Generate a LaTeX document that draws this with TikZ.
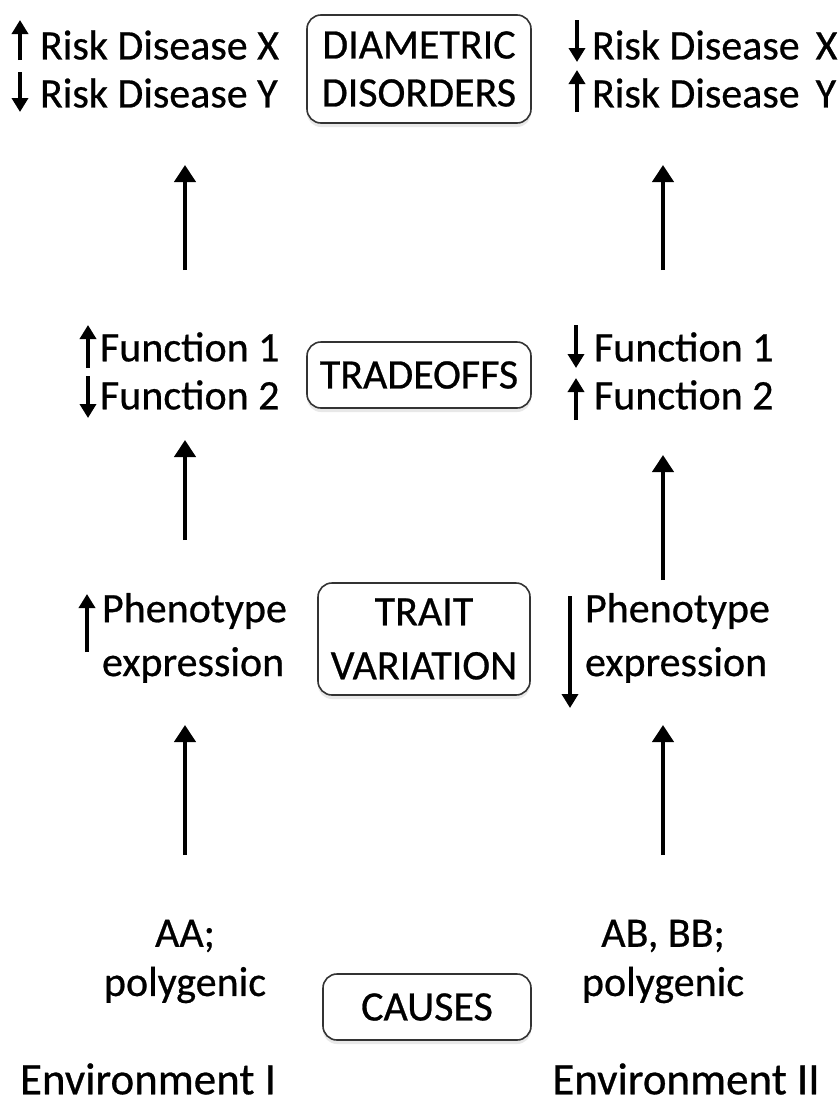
\documentclass[tikz,border=0pt]{standalone}
\usepackage{fontspec}
\setmainfont{Carlito}[FakeBold=0.6]
\usetikzlibrary{arrows.meta,shadows}
\begin{document}
\begin{tikzpicture}[x=1pt,y=-1pt,
  every node/.style={inner sep=0pt,outer sep=0pt,font=\fontsize{42}{48}\selectfont},
  catbox/.style={draw=black!80,line width=1.6pt,rounded corners=14pt,fill=white,
    align=center,drop shadow={opacity=0.18,shadow xshift=0pt,shadow yshift=-4pt}},
  lbl/.style={align=left,anchor=west},
  ctr/.style={align=center},
  envtext/.style={font=\fontsize{45}{52}\selectfont},
  bigarrow/.style={line width=4.2pt,-{Triangle[width=21pt,length=17pt]}},
  smallarrow/.style={line width=3.8pt,-{Triangle[width=16pt,length=14pt]}}
]
\useasboundingbox (0,0) rectangle (839,1106);

% category boxes
\node[catbox,minimum width=224pt,minimum height=108pt] (dd) at (419,69) {DIAMETRIC\\DISORDERS};
\node[catbox,minimum width=224pt,minimum height=66pt] (to) at (419,375) {TRADEOFFS};
\node[catbox,minimum width=212pt,minimum height=112pt,font=\fontsize{42}{54}\selectfont] (tv) at (424,639) {TRAIT\\VARIATION};
\node[catbox,minimum width=208pt,minimum height=66pt] (ca) at (427,1007) {CAUSES};

% top row texts
\node[lbl] (rl1) at (40,45) {Risk Disease X};
\node[lbl] (rl2) at (40,93) {Risk Disease Y};
\node[lbl] (rr1) at (592,45) {Risk Disease\hspace{0.38em}X};
\node[lbl] (rr2) at (592,93) {Risk Disease\hspace{0.38em}Y};

% tradeoff row texts
\node[lbl] (fl1) at (100,347) {Function 1};
\node[lbl] (fl2) at (100,395) {Function 2};
\node[lbl] (fr1) at (594,347) {Function 1};
\node[lbl] (fr2) at (594,395) {Function 2};

% trait row texts
\node[lbl] (pl1) at (102,611) {Phenotype};
\node[lbl] (pl2) at (102,665) {expression};
\node[lbl] (pr1) at (585,611) {Phenotype};
\node[lbl] (pr2) at (585,665) {expression};

% causes row texts
\node[ctr] (cl1) at (185,936) {AA;};
\node[ctr] (cl2) at (185,985) {polygenic};
\node[ctr] (cr1) at (663,936) {AB, BB;};
\node[ctr] (cr2) at (663,985) {polygenic};
\node[ctr,envtext] (el) at (148,1079) {Environment I};
\node[ctr,envtext] (er) at (686,1079) {Environment II};

% small direction arrows
\draw[smallarrow] (20,60) -- (20,20);
\draw[smallarrow] (20,72) -- (20,112);
\draw[smallarrow] (577,20) -- (577,62);
\draw[smallarrow] (577,112) -- (577,70);
\draw[smallarrow] (88,368) -- (88,325);
\draw[smallarrow] (88,376) -- (88,418);
\draw[smallarrow] (576,325) -- (576,368);
\draw[smallarrow] (576,420) -- (576,378);
\draw[smallarrow] (87,652) -- (87,594);
\draw[smallarrow] (570,596) -- (570,708);

% main connectors
\coordinate (l1s) at (185,270); \coordinate (l1e) at (185,165);
\coordinate (l2s) at (185,540); \coordinate (l2e) at (185,440);
\coordinate (l3s) at (185,855); \coordinate (l3e) at (185,725);
\coordinate (r1s) at (663,270); \coordinate (r1e) at (663,165);
\coordinate (r2s) at (663,580); \coordinate (r2e) at (663,455);
\coordinate (r3s) at (663,855); \coordinate (r3e) at (663,725);
\draw[bigarrow] (l1s) -- (l1e);
\draw[bigarrow] (l2s) -- (l2e);
\draw[bigarrow] (l3s) -- (l3e);
\draw[bigarrow] (r1s) -- (r1e);
\draw[bigarrow] (r2s) -- (r2e);
\draw[bigarrow] (r3s) -- (r3e);
\end{tikzpicture}
\end{document}
